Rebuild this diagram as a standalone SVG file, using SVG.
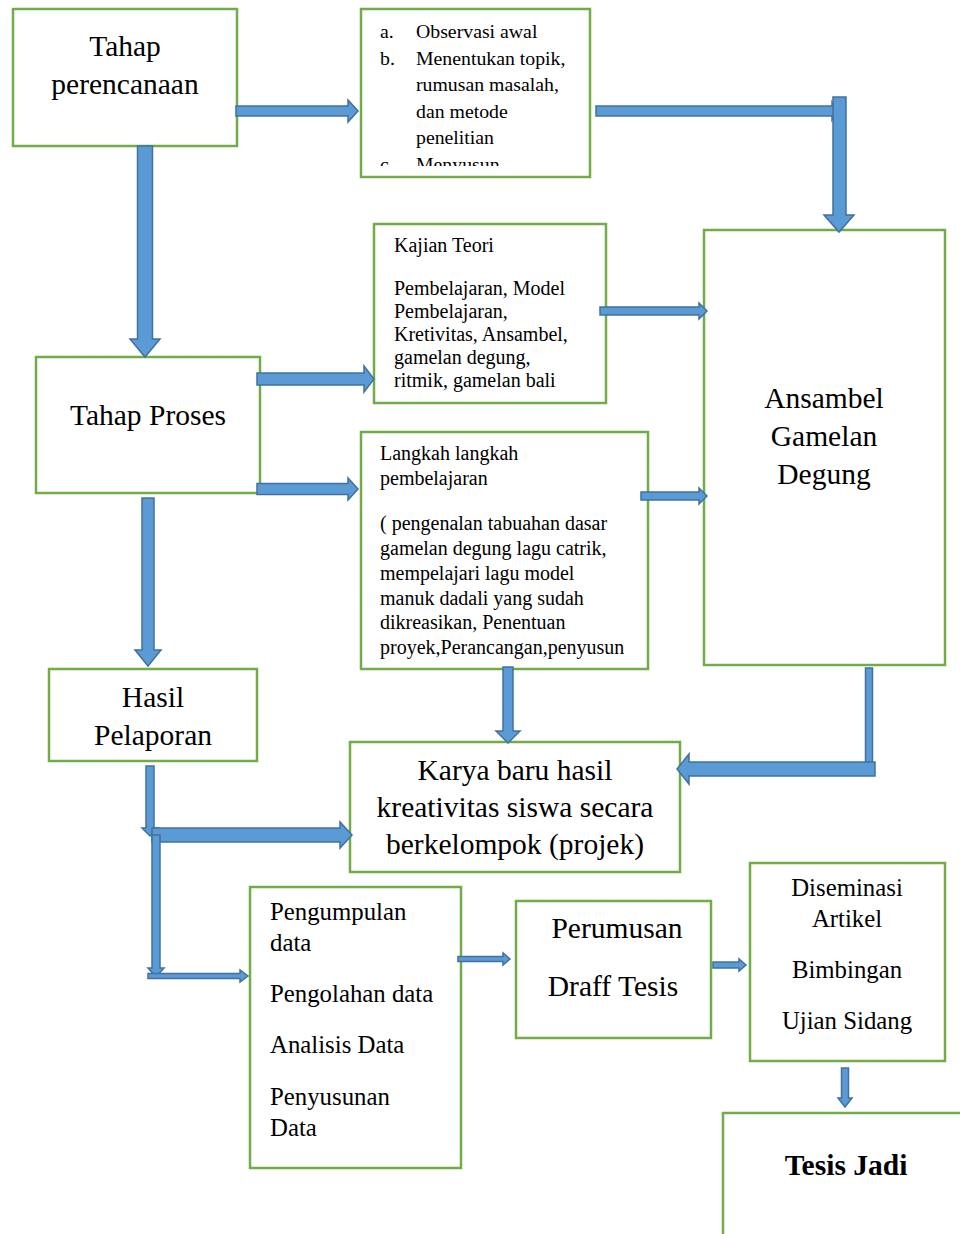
<svg xmlns="http://www.w3.org/2000/svg" width="960" height="1234" viewBox="0 0 960 1234">
<defs>
<style>
.box{fill:#fff;stroke:#70AD47;stroke-width:2.5}
.arr{fill:#5B9BD5;stroke:#41719C;stroke-width:1.5;stroke-linejoin:miter}
.big{font-family:"Liberation Serif","Times New Roman",serif;font-size:29.5px;fill:#000;text-anchor:middle}
.mid{font-family:"Liberation Serif","Times New Roman",serif;font-size:24.8px;fill:#000}
.midc{font-family:"Liberation Serif","Times New Roman",serif;font-size:24.8px;fill:#000;text-anchor:middle}
.sm{font-family:"Liberation Serif","Times New Roman",serif;font-size:20px;fill:#000}
.bold{font-family:"Liberation Serif","Times New Roman",serif;font-size:29.5px;font-weight:bold;fill:#000;text-anchor:middle}
</style>
<clipPath id="clip2"><rect x="361" y="9" width="229" height="157"/></clipPath>
</defs>
<rect width="960" height="1234" fill="#fff"/>

<g id="tahap-perencanaan">
<rect class="box" x="13" y="9" width="224" height="137"/>
<text class="big" x="125" y="56">Tahap</text>
<text class="big" x="125" y="94">perencanaan</text>
</g>

<g id="observasi">
<rect class="box" x="361" y="9" width="229" height="168"/>
<g clip-path="url(#clip2)" class="sm" style="font-size:19.8px">
<text x="380" y="38">a.</text><text x="416" y="38">Observasi awal</text>
<text x="380" y="65">b.</text><text x="416" y="65">Menentukan topik,</text>
<text x="416" y="91">rumusan masalah,</text>
<text x="416" y="118">dan metode</text>
<text x="416" y="144">penelitian</text>
<text x="380" y="171">c.</text><text x="416" y="171">Menyusun</text>
</g>
</g>

<g id="ansambel">
<rect class="box" x="704" y="230" width="241" height="435"/>
<text class="big" x="824" y="408">Ansambel</text>
<text class="big" x="824" y="446">Gamelan</text>
<text class="big" x="824" y="484">Degung</text>
</g>

<g id="tahap-proses">
<rect class="box" x="36" y="357" width="224" height="136"/>
<text class="big" x="148" y="425">Tahap Proses</text>
</g>

<g id="kajian-teori">
<rect class="box" x="374" y="224" width="232" height="179"/>
<text class="sm" x="394" y="252">Kajian Teori</text>
<text class="sm" x="394" y="295">Pembelajaran, Model</text>
<text class="sm" x="394" y="318">Pembelajaran,</text>
<text class="sm" x="394" y="341">Kretivitas, Ansambel,</text>
<text class="sm" x="394" y="364">gamelan degung,</text>
<text class="sm" x="394" y="387">ritmik, gamelan bali</text>
</g>

<g id="langkah">
<rect class="box" x="361" y="432" width="287" height="237"/>
<text class="sm" x="380" y="460">Langkah langkah</text>
<text class="sm" x="380" y="485">pembelajaran</text>
<text class="sm" x="380" y="530">( pengenalan tabuahan dasar</text>
<text class="sm" x="380" y="555">gamelan degung lagu catrik,</text>
<text class="sm" x="380" y="580">mempelajari lagu model</text>
<text class="sm" x="380" y="605">manuk dadali yang sudah</text>
<text class="sm" x="380" y="629">dikreasikan, Penentuan</text>
<text class="sm" x="380" y="654">proyek,Perancangan,penyusun</text>
</g>

<g id="hasil-pelaporan">
<rect class="box" x="49" y="669" width="208" height="92"/>
<text class="big" x="153" y="707">Hasil</text>
<text class="big" x="153" y="745">Pelaporan</text>
</g>

<g id="karya">
<rect class="box" x="350" y="742" width="330" height="130"/>
<text class="big" x="515" y="780">Karya baru hasil</text>
<text class="big" x="515" y="817">kreativitas siswa secara</text>
<text class="big" x="515" y="854">berkelompok (projek)</text>
</g>

<g id="pengumpulan">
<rect class="box" x="250" y="887" width="211" height="281"/>
<text class="mid" x="270" y="920">Pengumpulan</text>
<text class="mid" x="270" y="951">data</text>
<text class="mid" x="270" y="1002">Pengolahan data</text>
<text class="mid" x="270" y="1053">Analisis Data</text>
<text class="mid" x="270" y="1105">Penyusunan</text>
<text class="mid" x="270" y="1136">Data</text>
</g>

<g id="perumusan">
<rect class="box" x="516" y="901" width="195" height="137"/>
<text class="big" x="617" y="938">Perumusan</text>
<text class="big" x="613" y="996">Draff Tesis</text>
</g>

<g id="diseminasi">
<rect class="box" x="750" y="863" width="195" height="198"/>
<text class="midc" x="847" y="896">Diseminasi</text>
<text class="midc" x="847" y="927">Artikel</text>
<text class="midc" x="847" y="978">Bimbingan</text>
<text class="midc" x="847" y="1029">Ujian Sidang</text>
</g>

<g id="tesis-jadi">
<polyline points="723,1236 723,1113 962,1113" fill="#fff" stroke="#70AD47" stroke-width="2.5"/>
<text class="bold" x="846" y="1175">Tesis Jadi</text>
</g>

<g id="connectors">
<polygon class="arr" points="236,106 348,106 348,100 358,111 348,122 348,116 236,116"/>
<polygon class="arr" points="596,106 832,106 832,102 838,111 832,120 832,116 596,116"/>
<polygon class="arr" points="833,97 846,97 846,215 854,215 839,232 824,215 833,215"/>
<polygon class="arr" points="137.5,146 152.5,146 152.5,339 160,339 145,357 130,339 137.5,339"/>
<polygon class="arr" points="257,373 364,373 364,366 374,379 364,392 364,385 257,385"/>
<polygon class="arr" points="600,307 699,307 699,303 707,311 699,319 699,315 600,315"/>
<polygon class="arr" points="257,483.5 348,483.5 348,478 358,489 348,500 348,494.5 257,494.5"/>
<polygon class="arr" points="641,492 699,492 699,488 707,496 699,504 699,500 641,500"/>
<polygon class="arr" points="142,498 154,498 154,650 161,650 148,666 135,650 142,650"/>
<polygon class="arr" points="503,667 513,667 513,731 520,731 508,743 496,731 503,731"/>
<polygon class="arr" points="865.5,668 872.5,668 872.5,775 865.5,775"/>
<polygon class="arr" points="875,762 689,762 689,754 677,769 689,784 689,776 875,776"/>
<polygon class="arr" points="146,766 154,766 154,828 158,828 150,836 142,828 146,828"/>
<polygon class="arr" points="152,828 340,828 340,822 352,835 340,848 340,842 152,842"/>
<polygon class="arr" points="152,835 160,835 160,968 164,968 156,977 148,968 152,968"/>
<polygon class="arr" points="148,973.5 240,973.5 240,970 248,976 240,982 240,978.5 148,978.5"/>
<polygon class="arr" points="458,956.5 503,956.5 503,953 510,959 503,965 503,961.5 458,961.5"/>
<polygon class="arr" points="713,962 739,962 739,959 746,965 739,971 739,968 713,968"/>
<polygon class="arr" points="841.5,1068 848.5,1068 848.5,1098 852,1098 845,1107 838,1098 841.5,1098"/>
</g>
</svg>
